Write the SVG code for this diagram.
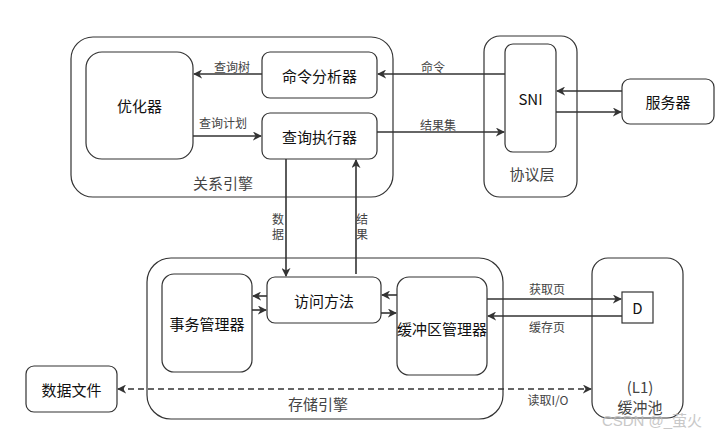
<svg xmlns="http://www.w3.org/2000/svg" width="727" height="437" viewBox="0 0 727 437">
<defs>
<marker id="ah" viewBox="0 0 10 10" refX="9" refY="5" markerWidth="9" markerHeight="9" markerUnits="userSpaceOnUse" orient="auto-start-reverse">
<path d="M0,0 L10,5 L0,10 L3,5 Z" fill="#333"/>
</marker>
<style>
.box{fill:#fff;stroke:#333;stroke-width:1.2}
.grp{fill:#fff;stroke:#333;stroke-width:1.2}
.t{font-family:"Noto Sans CJK SC","Liberation Sans",sans-serif;font-size:15px;fill:#111;text-anchor:middle;dominant-baseline:central}
.g{font-family:"Noto Sans CJK SC","Liberation Sans",sans-serif;font-size:15px;fill:#444;text-anchor:middle;dominant-baseline:central}
.l{font-family:"Noto Sans CJK SC","Liberation Sans",sans-serif;font-size:12px;fill:#444;text-anchor:middle;dominant-baseline:central}
.v{writing-mode:vertical-rl;letter-spacing:3px}
.e{fill:none;stroke:#333;stroke-width:1.6}
.d{fill:none;stroke:#333;stroke-width:1.4;stroke-dasharray:6 4}
</style>
</defs>
<rect width="727" height="437" fill="#fff"/>
<g id="relation-engine">
<rect class="grp" x="71" y="37" width="322" height="160" rx="22"/>
<text class="g" x="223" y="182">关系引擎</text>
</g>
<g id="protocol-layer">
<rect class="grp" x="484" y="36" width="93" height="161" rx="16"/>
<text class="g" x="532" y="173">协议层</text>
</g>
<g id="storage-engine">
<rect class="grp" x="147" y="258" width="356" height="161" rx="24"/>
<text class="g" x="318" y="403">存储引擎</text>
</g>
<g id="buffer-pool">
<rect class="grp" x="592" y="258" width="91" height="160" rx="16"/>
<text class="g" x="640" y="386" font-family="'Liberation Sans',sans-serif">(L1)</text>
<text class="g" x="640" y="406">缓冲池</text>
</g>
<g id="optimizer">
<rect class="box" x="86" y="52" width="107" height="107" rx="16"/>
<text class="t" x="139.5" y="105">优化器</text>
</g>
<g id="parser">
<rect class="box" x="262" y="52" width="115" height="46" rx="8"/>
<text class="t" x="319.5" y="75">命令分析器</text>
</g>
<g id="executor">
<rect class="box" x="262" y="113" width="115" height="46" rx="8"/>
<text class="t" x="319.5" y="136">查询执行器</text>
</g>
<g id="sni">
<rect class="box" x="505" y="44" width="51" height="108" rx="8"/>
<text class="t" x="530.5" y="98" font-family="'Liberation Sans',sans-serif">SNI</text>
</g>
<g id="server">
<rect class="box" x="622" y="79" width="92" height="45" rx="8"/>
<text class="t" x="668" y="101.5">服务器</text>
</g>
<g id="tx-manager">
<rect class="box" x="162" y="274" width="90" height="98" rx="12"/>
<text class="t" x="207" y="323">事务管理器</text>
</g>
<g id="access-method">
<rect class="box" x="267" y="277" width="114" height="46" rx="8"/>
<text class="t" x="324" y="300">访问方法</text>
</g>
<g id="buffer-manager">
<rect class="box" x="397" y="277" width="90" height="98" rx="12"/>
<text class="t" x="442" y="328">缓冲区管理器</text>
</g>
<g id="page-d">
<rect class="box" x="622" y="292" width="31" height="31" rx="0"/>
<text class="t" x="637.5" y="307.5" font-size="13" font-family="'Liberation Sans',sans-serif">D</text>
</g>
<g id="data-file">
<rect class="box" x="26" y="366" width="91" height="46" rx="8"/>
<text class="t" x="71.5" y="389">数据文件</text>
</g>
<g id="connectors">
<line class="e" x1="262" y1="74" x2="194" y2="74" marker-end="url(#ah)"/>
<text class="l" x="232" y="66">查询树</text>
<line class="e" x1="193" y1="136" x2="261" y2="136" marker-end="url(#ah)"/>
<text class="l" x="223" y="122">查询计划</text>
<line class="e" x1="505" y1="74" x2="378" y2="74" marker-end="url(#ah)"/>
<text class="l" x="433" y="66">命令</text>
<line class="e" x1="377" y1="132" x2="504" y2="132" marker-end="url(#ah)"/>
<text class="l" x="438" y="124">结果集</text>
<line class="e" x1="622" y1="91" x2="557" y2="91" marker-end="url(#ah)"/>
<line class="e" x1="556" y1="112" x2="621" y2="112" marker-end="url(#ah)"/>
<line class="e" x1="286" y1="159" x2="286" y2="276" marker-end="url(#ah)"/>
<text class="l v" x="278" y="228">数据</text>
<line class="e" x1="356" y1="274" x2="356" y2="160" marker-end="url(#ah)"/>
<text class="l v" x="362" y="228">结果</text>
<line class="e" x1="267" y1="296" x2="253" y2="296" marker-end="url(#ah)"/>
<line class="e" x1="252" y1="310" x2="266" y2="310" marker-end="url(#ah)"/>
<line class="e" x1="397" y1="295" x2="382" y2="295" marker-end="url(#ah)"/>
<line class="e" x1="381" y1="313" x2="396" y2="313" marker-end="url(#ah)"/>
<line class="e" x1="487" y1="299" x2="621" y2="299" marker-end="url(#ah)"/>
<text class="l" x="547" y="288">获取页</text>
<line class="e" x1="622" y1="316" x2="488" y2="316" marker-end="url(#ah)"/>
<text class="l" x="547" y="326">缓存页</text>
<line class="d" x1="118" y1="389" x2="591" y2="389" marker-start="url(#ah)" marker-end="url(#ah)"/>
<text class="l" x="548" y="399">读取I/O</text>
</g>
<text x="652" y="426" font-family="'Liberation Sans','Noto Sans CJK SC',sans-serif" font-size="15" fill="#bbb" text-anchor="middle" opacity="0.8">CSDN @_萤火</text>
</svg>
